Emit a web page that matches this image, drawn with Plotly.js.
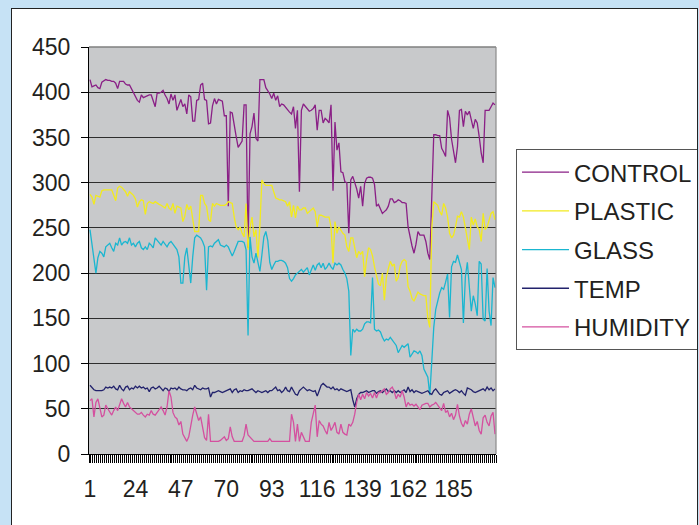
<!DOCTYPE html>
<html>
<head>
<meta charset="utf-8">
<script src="https://cdn.plot.ly/plotly-3.0.1.min.js"></script>
<style>
  html, body { margin: 0; padding: 0; background: #c6e2f5; width: 699px; height: 525px; overflow: hidden; }
  #frame { position: absolute; left: 11px; top: 8px; width: 685px; height: 530px; border: 1px solid #222; background: #ffffff; overflow: hidden; }
  #chart { width: 685px; height: 530px; }
</style>
</head>
<body>
<div id="frame"><div id="chart"></div></div>
<script>
const seriesNames = ["CONTROL", "PLASTIC", "GLASS", "TEMP", "HUMIDITY"];
const seriesColors = ["#8a1f86", "#f2ea1e", "#1ab6d0", "#22226c", "#d4509f"];

const control = [
414,406,407,408,405,404,411,413,414,413,
413,412,412,410,404,412,412,412,409,408,
408,404,399,396,391,389,397,394,395,396,
397,397,390,384,399,399,400,402,397,393,
387,398,391,397,380,387,392,384,387,376,
397,395,368,368,391,392,408,410,392,391,
365,366,385,393,387,392,391,390,374,374,
274,378,377,362,351,339,343,346,386,386,
228,354,362,377,349,346,414,414,414,405,
402,398,393,399,391,396,384,387,386,383,
380,378,376,384,360,380,290,380,387,384,
382,379,380,382,386,358,380,380,366,371,
369,366,386,291,367,336,344,312,311,301,
300,244,303,307,300,293,283,296,274,299,
305,306,306,305,298,274,276,270,266,268,
270,274,282,282,278,279,281,280,278,278,
277,251,239,230,222,232,246,242,242,242,
235,222,215,278,353,353,352,352,338,334,
329,380,372,348,336,322,340,380,381,362,
379,375,379,370,360,370,366,351,333,322,
380,380,380,384,388,386];

const plastic = [
287,284,276,286,285,284,291,292,292,292,
292,292,286,280,294,296,295,293,290,285,
290,288,286,282,273,279,281,280,265,277,
279,278,277,279,277,276,275,273,272,277,
272,270,277,266,274,273,272,257,263,276,
270,274,259,246,246,246,286,286,277,274,
259,257,277,274,277,276,275,275,275,276,
279,278,277,262,251,248,251,244,240,277,
226,250,262,240,248,217,253,303,299,297,
297,297,297,290,283,282,281,281,280,279,
274,279,262,275,261,274,270,270,272,272,
266,268,270,272,268,251,264,264,263,262,
262,262,251,211,257,244,251,247,244,242,
229,224,239,239,227,217,224,221,224,196,
215,228,226,219,207,198,188,186,200,170,
195,205,213,208,210,191,195,208,213,215,
213,185,180,172,169,174,179,177,176,175,
175,150,140,250,279,277,275,268,264,277,
272,262,244,239,242,251,263,262,268,262,
250,235,226,262,253,260,251,248,235,266,
248,251,258,266,268,259];

const glass = [
248,233,218,200,217,224,222,218,229,231,
233,228,224,233,231,239,231,234,235,233,
239,231,233,229,233,235,228,226,229,226,
233,231,228,239,236,234,231,235,232,229,
233,235,232,229,226,218,189,189,218,228,
207,189,218,239,242,240,239,235,229,181,
229,230,229,233,235,237,231,230,229,231,
229,224,219,224,230,235,235,235,234,226,
131,240,218,211,222,213,202,220,240,246,
236,212,204,209,213,213,214,214,213,211,
206,194,191,194,198,200,202,204,201,204,
206,198,203,209,203,209,211,206,211,204,
207,211,207,204,211,209,211,209,204,200,
194,180,109,138,135,138,136,136,138,144,
146,146,145,195,138,136,137,135,129,125,
127,126,129,126,124,120,112,116,120,118,
120,122,107,111,114,113,111,114,109,94,
90,85,65,100,140,160,170,178,184,182,
190,199,151,207,213,212,220,211,204,145,
196,212,180,158,175,166,153,213,210,149,
147,205,158,142,195,184];

const temp = [
76,73,71,70,70,70,70,71,74,73,
74,73,75,72,71,76,72,70,74,75,
71,73,72,75,73,75,73,74,72,73,
69,73,74,72,73,75,72,70,73,72,
69,73,72,73,71,74,72,71,71,70,
72,73,71,76,73,72,71,73,72,72,
73,63,68,68,69,70,69,68,69,70,
71,72,68,71,72,68,70,69,71,70,
70,71,72,70,68,70,69,68,69,70,
68,70,70,72,74,70,71,68,70,74,
70,69,74,70,66,65,70,72,74,72,
70,71,70,69,70,64,70,76,78,76,
74,74,72,74,71,72,70,72,71,70,
69,70,71,60,52,61,66,68,68,69,
70,68,69,70,70,67,69,70,68,70,
72,69,70,68,70,68,70,68,70,71,
68,74,69,71,68,70,69,68,67,68,
69,70,67,66,70,72,69,66,65,68,
69,70,67,69,70,71,70,68,70,67,
65,73,72,71,69,68,69,70,71,72,
70,74,71,73,70,72];

const humidity = [
59,61,41,57,61,52,41,43,54,50,
46,43,48,52,48,56,61,56,52,57,
52,50,48,46,44,44,46,43,41,44,
43,48,44,43,46,50,52,48,43,52,
70,63,46,41,39,32,36,22,17,14,
19,33,43,52,44,37,41,30,18,15,
44,14,14,14,14,14,15,17,19,15,
17,30,19,14,14,14,14,14,20,33,
21,19,16,14,14,14,14,14,14,14,
14,17,14,14,14,14,14,14,14,14,
14,14,44,35,14,33,14,24,19,14,
14,14,35,44,54,19,37,33,31,26,
22,35,26,30,35,24,22,33,24,22,
21,33,31,35,44,57,66,60,66,61,
68,64,67,62,68,62,68,68,70,72,
66,68,72,74,69,61,66,63,70,63,
52,57,54,55,53,55,52,49,54,55,
56,56,52,54,55,57,54,51,48,56,
46,48,41,45,38,43,55,42,34,30,
37,33,44,50,41,31,36,26,22,40,
43,35,31,42,46,22];

const xTickVals = [1, 24, 47, 70, 93, 116, 139, 162, 185];
const xTickText = ["1", "24", "47", "70", "93", "116", "139", "162", "185"];
const yTickVals = [0, 50, 100, 150, 200, 250, 300, 350, 400, 450];
const yTickText = ["0", "50", "100", "150", "200", "250", "300", "350", "400", "450"];

const allSeries = [control, plastic, glass, temp, humidity];
const categories = control.map((_, i) => i + 1);

const traces = allSeries.map((vals, k) => ({
  type: "scatter",
  mode: "lines",
  name: seriesNames[k],
  legendgroup: "g" + k,
  x: categories,
  y: vals,
  line: { color: seriesColors[k], width: 1.3 },
  hoverinfo: "skip"
}));

const font = "Liberation Sans, Arial, sans-serif";

const layout = {
  width: 685,
  height: 530,
  margin: { l: 77, r: 201, t: 38, b: 85, pad: 0, autoexpand: false },
  paper_bgcolor: "#ffffff",
  plot_bgcolor: "#c8c9cb",
  showlegend: true,
  font: { family: font, size: 23, color: "#231f20" },
  xaxis: {
    range: [0.5, categories.length + 0.5],
    tickmode: "array",
    tickvals: xTickVals,
    ticktext: xTickText,
    ticks: "",
    showgrid: false,
    zeroline: false,
    showline: true,
    linecolor: "#000000",
    linewidth: 1,
    ticklabelstandoff: 14,
    tickfont: { family: font, size: 23, color: "#231f20" },
    minor: { tickmode: "linear", tick0: 0.5, dtick: 1, ticks: "outside", ticklen: 8, tickcolor: "#000000", tickwidth: 1, showgrid: false }
  },
  yaxis: {
    range: [0, 450],
    tickmode: "array",
    tickvals: yTickVals,
    ticktext: yTickText,
    ticks: "outside",
    ticklen: 7,
    tickcolor: "#000000",
    tickwidth: 1,
    showgrid: true,
    gridcolor: "#2e2e2e",
    gridwidth: 1,
    zeroline: false,
    showline: true,
    linecolor: "#000000",
    linewidth: 1,
    ticklabelstandoff: 6,
    tickfont: { family: font, size: 23, color: "#231f20" }
  },
  legend: {
    xref: "container",
    yref: "container",
    x: 0.7358,
    y: 0.7358,
    xanchor: "left",
    yanchor: "top",
    bgcolor: "#ffffff",
    bordercolor: "#555555",
    borderwidth: 1,
    font: { family: font, size: 24, color: "#231f20" },
    itemwidth: 47,
    tracegroupgap: 4.5,
    traceorder: "grouped"
  },
  shapes: [
    { type: "line", xref: "paper", yref: "paper", x0: 0, x1: 1, y0: 1, y1: 1, line: { color: "#7f7f7f", width: 1.5 } },
    { type: "line", xref: "paper", yref: "paper", x0: 1, x1: 1, y0: 0, y1: 1, line: { color: "#8a8a8a", width: 1.2 } }
  ]
};

Plotly.newPlot("chart", traces, layout, { staticPlot: true, displayModeBar: false });
</script>
</body>
</html>
